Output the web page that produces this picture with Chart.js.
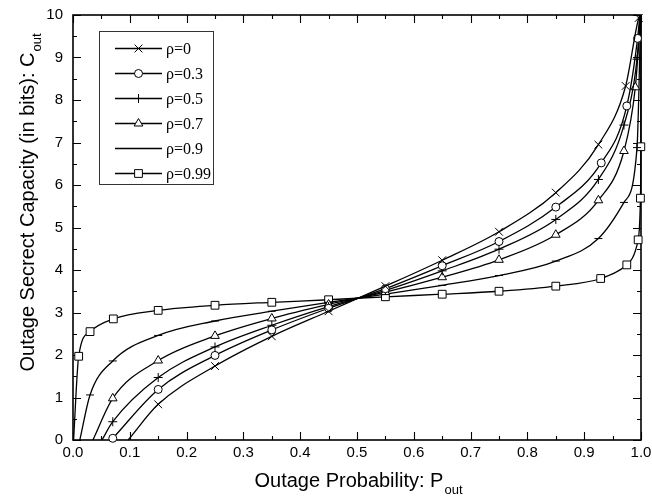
<!DOCTYPE html>
<html>
<head>
<meta charset="utf-8">
<title>Outage Secrect Capacity</title>
<script src="https://cdn.jsdelivr.net/npm/chart.js@4.4.1/dist/chart.umd.min.js"></script>
<style>
  html, body { margin: 0; padding: 0; background: #fff; }
  #wrap { width: 652px; height: 504px; }
</style>
</head>
<body>
<div id="wrap"><canvas id="outageChart" width="652" height="504"></canvas></div>
<script>
// Tick values
const xTickValues = [0, 0.1, 0.2, 0.3, 0.4, 0.5, 0.6, 0.7, 0.8, 0.9, 1.0];
const yTickValues = [0, 1, 2, 3, 4, 5, 6, 7, 8, 9, 10];

// Series labels
const seriesLabels = ['ρ=0', 'ρ=0.3', 'ρ=0.5', 'ρ=0.7', 'ρ=0.9', 'ρ=0.99'];

// Outage probability (x) and outage secrecy capacity (y)
const rho0P = [0.097, 0.15, 0.25, 0.35, 0.45, 0.55, 0.65, 0.75, 0.85, 0.925, 0.973, 0.996, 0.999];
const rho0C = [0, 0.84, 1.74, 2.44, 3.03, 3.62, 4.23, 4.9, 5.82, 6.95, 8.33, 9.93, 10];

const rho03P = [0.07, 0.15, 0.25, 0.35, 0.45, 0.55, 0.65, 0.75, 0.85, 0.93, 0.975, 0.994, 0.998];
const rho03C = [0.04, 1.19, 1.99, 2.59, 3.1, 3.56, 4.1, 4.67, 5.48, 6.52, 7.86, 9.45, 10];

const rho05P = [0.051, 0.07, 0.15, 0.25, 0.35, 0.45, 0.55, 0.65, 0.75, 0.85, 0.925, 0.97, 0.993, 0.999];
const rho05C = [0, 0.43, 1.47, 2.19, 2.7, 3.14, 3.52, 3.98, 4.49, 5.19, 6.13, 7.41, 8.96, 10];

const rho07P = [0.035, 0.07, 0.15, 0.25, 0.35, 0.45, 0.55, 0.65, 0.75, 0.85, 0.925, 0.97, 0.99, 0.9995];
const rho07C = [0, 0.98, 1.87, 2.45, 2.86, 3.19, 3.48, 3.83, 4.24, 4.83, 5.64, 6.8, 8.3, 10];

const rho09P = [0.012, 0.03, 0.07, 0.15, 0.25, 0.35, 0.45, 0.55, 0.65, 0.75, 0.85, 0.925, 0.97, 0.993, 0.9995];
const rho09C = [0, 1.06, 1.86, 2.46, 2.8, 3.03, 3.24, 3.43, 3.64, 3.87, 4.21, 4.74, 5.59, 6.88, 10];

const rho099P = [0.001, 0.01, 0.03, 0.071, 0.15, 0.25, 0.35, 0.45, 0.55, 0.65, 0.75, 0.85, 0.929, 0.975, 0.995, 0.999, 0.9997, 1.0];
const rho099C = [0, 1.97, 2.55, 2.85, 3.05, 3.17, 3.24, 3.3, 3.37, 3.43, 3.5, 3.62, 3.8, 4.12, 4.71, 5.69, 6.9, 10];

(function () {
  'use strict';

  const seriesP = [rho0P, rho03P, rho05P, rho07P, rho09P, rho099P];
  const seriesC = [rho0C, rho03C, rho05C, rho07C, rho09C, rho099C];

  const markers = [
    { style: 'crossRot', r: 5.5 },
    { style: 'circle', r: 4 },
    { style: 'cross', r: 4.5 },
    { style: 'triangle', r: 5 },
    { style: 'line', r: 4 },
    { style: 'rect', r: 5.5 },
  ];

  const SANS = '"Liberation Sans", Arial, sans-serif';
  const SERIF = '"Liberation Serif", "Times New Roman", serif';

  // Frame and inward ticks on all four sides
  const frameTicks = {
    id: 'frameTicks',
    beforeDatasetsDraw(chart) {
      const ctx = chart.ctx;
      const a = chart.chartArea;
      const xs = chart.scales.x;
      const ys = chart.scales.y;
      ctx.save();
      ctx.strokeStyle = '#000';
      ctx.lineWidth = 1.6;
      ctx.strokeRect(a.left, a.top, a.right - a.left, a.bottom - a.top);
      ctx.lineWidth = 1.1;
      ctx.beginPath();
      function vTick(v, len) {
        const px = Math.round(xs.getPixelForValue(v)) + 0.5;
        ctx.moveTo(px, a.bottom); ctx.lineTo(px, a.bottom - len);
        ctx.moveTo(px, a.top); ctx.lineTo(px, a.top + len);
      }
      function hTick(v, len) {
        const py = Math.round(ys.getPixelForValue(v)) + 0.5;
        ctx.moveTo(a.left, py); ctx.lineTo(a.left + len, py);
        ctx.moveTo(a.right, py); ctx.lineTo(a.right - len, py);
      }
      xTickValues.forEach(function (v, i) {
        vTick(v, 8);
        if (i > 0) vTick((v + xTickValues[i - 1]) / 2, 4);
      });
      yTickValues.forEach(function (v, i) {
        hTick(v, 8);
        if (i > 0) hTick((v + yTickValues[i - 1]) / 2, 4);
      });
      ctx.stroke();
      ctx.restore();
    },
    afterDraw(chart) {
      const ctx = chart.ctx;
      ctx.save();
      ctx.fillStyle = '#000';

      // Axis titles with subscripts
      function subTitle(main, sub) {
        ctx.font = '20px ' + SANS;
        const w1 = ctx.measureText(main).width;
        ctx.font = '13px ' + SANS;
        const w2 = ctx.measureText(sub).width;
        return { w1: w1, total: w1 + w2 };
      }
      let m = subTitle('Outage Probability: P', 'out');
      const x0 = 358 - m.total / 2;
      ctx.textAlign = 'left';
      ctx.textBaseline = 'alphabetic';
      ctx.font = '20px ' + SANS;
      ctx.fillText('Outage Probability: P', x0, 487);
      ctx.font = '13px ' + SANS;
      ctx.fillText('out', x0 + m.w1 + 1, 494);

      m = subTitle('Outage Secrect Capacity (in bits): C', 'out');
      ctx.translate(34, 203 + m.total / 2);
      ctx.rotate(-Math.PI / 2);
      ctx.font = '20px ' + SANS;
      ctx.fillText('Outage Secrect Capacity (in bits): C', 0, 0);
      ctx.font = '13px ' + SANS;
      ctx.fillText('out', m.w1 + 1, 7);
      ctx.setTransform(1, 0, 0, 1, 0, 0);

      // Legend box
      ctx.strokeStyle = '#333';
      ctx.lineWidth = 1;
      ctx.strokeRect(99.5, 31.5, 114, 153);
      seriesLabels.forEach(function (label, i) {
        const y = 48.5 + i * 25;
        ctx.strokeStyle = '#000';
        ctx.lineWidth = 1.3;
        ctx.beginPath();
        ctx.moveTo(115, y); ctx.lineTo(162, y);
        ctx.stroke();
        ctx.fillStyle = '#fff';
        ctx.lineWidth = 1;
        Chart.helpers.drawPoint(ctx, {
          pointStyle: markers[i].style, radius: markers[i].r, rotation: 0, borderWidth: 1,
        }, 138.5, y);
        ctx.fillStyle = '#000';
        ctx.font = '16px ' + SERIF;
        ctx.textBaseline = 'middle';
        ctx.fillText(label, 166, y + 1);
      });
      ctx.restore();
    },
  };

  function initOutageChart() {
    const canvas = document.getElementById('outageChart');

    const datasets = seriesLabels.map(function (label, i) {
      const xs = seriesP[i];
      const ys = seriesC[i];
      return {
        label: label,
        data: xs.map(function (x, k) { return { x: x, y: ys[k] }; }),
        borderColor: '#000',
        borderWidth: 1.3,
        backgroundColor: '#fff',
        fill: false,
        cubicInterpolationMode: 'monotone',
        pointStyle: markers[i].style,
        pointRadius: function (c) {
          const v = ys[c.dataIndex];
          return v === 0 || v === 10 ? 0 : markers[i].r;
        },
        pointHoverRadius: 0,
        pointBorderColor: '#000',
        pointBackgroundColor: '#fff',
        pointBorderWidth: 1,
        clip: false,
      };
    });

    new Chart(canvas, {
      type: 'line',
      data: { datasets: datasets },
      options: {
        responsive: false,
        animation: false,
        devicePixelRatio: 1,
        layout: { padding: { top: 15, right: 11, left: 0, bottom: 0 } },
        plugins: {
          legend: { display: false },
          tooltip: { enabled: false },
        },
        scales: {
          x: {
            type: 'linear',
            min: 0,
            max: 1,
            afterBuildTicks: function (s) { s.ticks = xTickValues.map(function (v) { return { value: v }; }); },
            afterFit: function (s) { s.height = 64; s.paddingLeft = 0; s.paddingRight = 0; },
            ticks: {
              color: '#000',
              padding: 4,
              maxRotation: 0,
              font: { family: SANS, size: 15 },
              callback: function (v) { return Number(v).toFixed(1); },
            },
            grid: { display: false, drawTicks: false },
            border: { display: false },
          },
          y: {
            type: 'linear',
            min: 0,
            max: 10,
            afterBuildTicks: function (s) { s.ticks = yTickValues.map(function (v) { return { value: v }; }); },
            afterFit: function (s) { s.width = 73; s.paddingTop = 0; s.paddingBottom = 0; },
            ticks: {
              color: '#000',
              padding: 10,
              font: { family: SANS, size: 15 },
            },
            grid: { display: false, drawTicks: false },
            border: { display: false },
          },
        },
      },
      plugins: [frameTicks],
    });
  }

  document.addEventListener('DOMContentLoaded', initOutageChart);
})();
</script>
</body>
</html>
